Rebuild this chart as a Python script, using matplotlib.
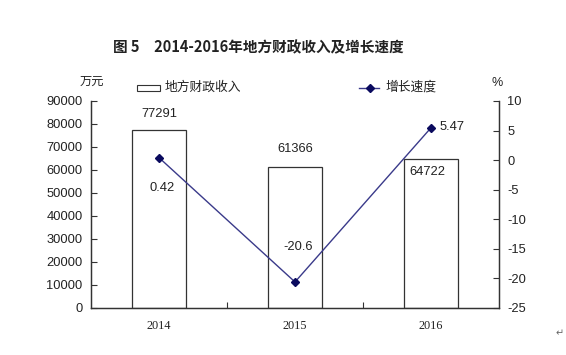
import matplotlib
matplotlib.use("Agg")
import matplotlib.pyplot as plt
from matplotlib.patches import Rectangle
from matplotlib.lines import Line2D

plt.rcParams['font.family'] = ['Liberation Sans', 'Noto Sans CJK SC', 'DejaVu Sans']
plt.rcParams['text.color'] = '#222222'
plt.rcParams['xtick.color'] = '#333333'
plt.rcParams['ytick.color'] = '#333333'
plt.rcParams['xtick.labelcolor'] = '#222222'
plt.rcParams['ytick.labelcolor'] = '#222222'

years = ['2014', '2015', '2016']
revenue = [77291, 61366, 64722]
growth = [0.42, -20.6, 5.47]
growth_labels = ['0.42', '-20.6', '5.47']
left_ticks = list(range(0, 90001, 10000))
right_ticks = list(range(-25, 11, 5))

CJK = ['Noto Sans CJK SC', 'DejaVu Sans']
LINE_C = '#3a3a8a'
MARK_C = '#0a0a5e'

fig = plt.figure(figsize=(5.66, 3.55), dpi=100)
ax = fig.add_axes([0.1608, 0.1324, 0.7208, 0.5831])
x = list(range(len(years)))
ax.bar(x, revenue, width=0.4, facecolor='white', edgecolor='#333333', linewidth=0.9, zorder=2)
ax.set_xlim(-0.5, 2.5)
ax.set_ylim(0, 90000)
ax.set_yticks(left_ticks)
ax.set_yticklabels([str(v) for v in left_ticks], fontsize=9.3)
ax.set_xticks([0.5, 1.5])
ax.set_xticklabels(['', ''])
ax.tick_params(axis='x', direction='in', length=4, width=0.8)
ax.tick_params(axis='y', direction='in', length=4, width=0.8, pad=6)
for i, lab in enumerate(years):
    ax.text(i, -0.058, lab, transform=ax.get_xaxis_transform(), ha='center', va='top',
            fontsize=8.8, family=['Liberation Serif', 'DejaVu Serif'])
ax.spines['top'].set_visible(False)
for s in ['left', 'bottom', 'right']:
    ax.spines[s].set_color('#333333')
    ax.spines[s].set_linewidth(0.9)

# revenue labels
ax.text(0, revenue[0] + 7200, f'{revenue[0]}', ha='center', va='center', fontsize=9.3)
ax.text(1, revenue[1] + 7600, f'{revenue[1]}', ha='center', va='center', fontsize=9.3)
ax.text(1.97, revenue[2] - 5600, f'{revenue[2]}', ha='center', va='center', fontsize=9.3)

ax2 = ax.twinx()
ax2.set_position(ax.get_position())
ax2.plot(x, growth, color=LINE_C, linewidth=1.0, zorder=3)
ax2.plot(x, growth, color=MARK_C, linestyle='none', marker='D', markersize=4, zorder=4)
ax2.set_ylim(-25, 10)
ax2.set_yticks(right_ticks)
ax2.set_yticklabels([str(v) for v in right_ticks], fontsize=9.3)
ax2.tick_params(axis='y', direction='in', length=4, width=0.8, pad=6)
ax2.spines['top'].set_visible(False)
for s in ['left', 'bottom', 'right']:
    ax2.spines[s].set_color('#333333')
    ax2.spines[s].set_linewidth(0.9)
ax2.text(0.02, growth[0] - 5.07, growth_labels[0], ha='center', va='center', fontsize=9.3)
ax2.text(1.02, growth[1] + 5.9, growth_labels[1], ha='center', va='center', fontsize=9.3)
ax2.text(2.066, growth[2] + 0.15, growth_labels[2], ha='left', va='center', fontsize=9.3)

# units
fig.text(91.5/566, 1 - 81/355, '万元', ha='center', va='center', fontsize=8.8, family=CJK)
fig.text(497/566, 1 - 83/355, '%', ha='center', va='center', fontsize=9)

# legend
fig.patches.append(Rectangle((137/566, 1 - 91/355), 23/566, 6/355, transform=fig.transFigure,
                             facecolor='white', edgecolor='#333333', linewidth=0.8))
fig.text(165/566, 1 - 87.5/355, '地方财政收入', ha='left', va='center', fontsize=9.2, family=CJK)
fig.lines.append(Line2D([359/566, 379/566], [1 - 88/355, 1 - 88/355], transform=fig.transFigure,
                        color=LINE_C, linewidth=1.0))
fig.lines.append(Line2D([369.5/566], [1 - 88/355], transform=fig.transFigure,
                        color=MARK_C, marker='D', markersize=4, linestyle='none'))
fig.text(385/566, 1 - 87.5/355, '增长速度', ha='left', va='center', fontsize=9.2, family=CJK)

# title
fig.text(258/566, 1 - 47/355, '图 5　2014-2016年地方财政收入及增长速度', ha='center', va='center',
         fontsize=10.5, fontweight='bold', family=CJK)

fig.text(560/566, 1 - 333/355, '↵', ha='center', va='center', fontsize=7, color='#666666',
         family=['DejaVu Sans'])

fig.savefig('out.png', dpi=100)
